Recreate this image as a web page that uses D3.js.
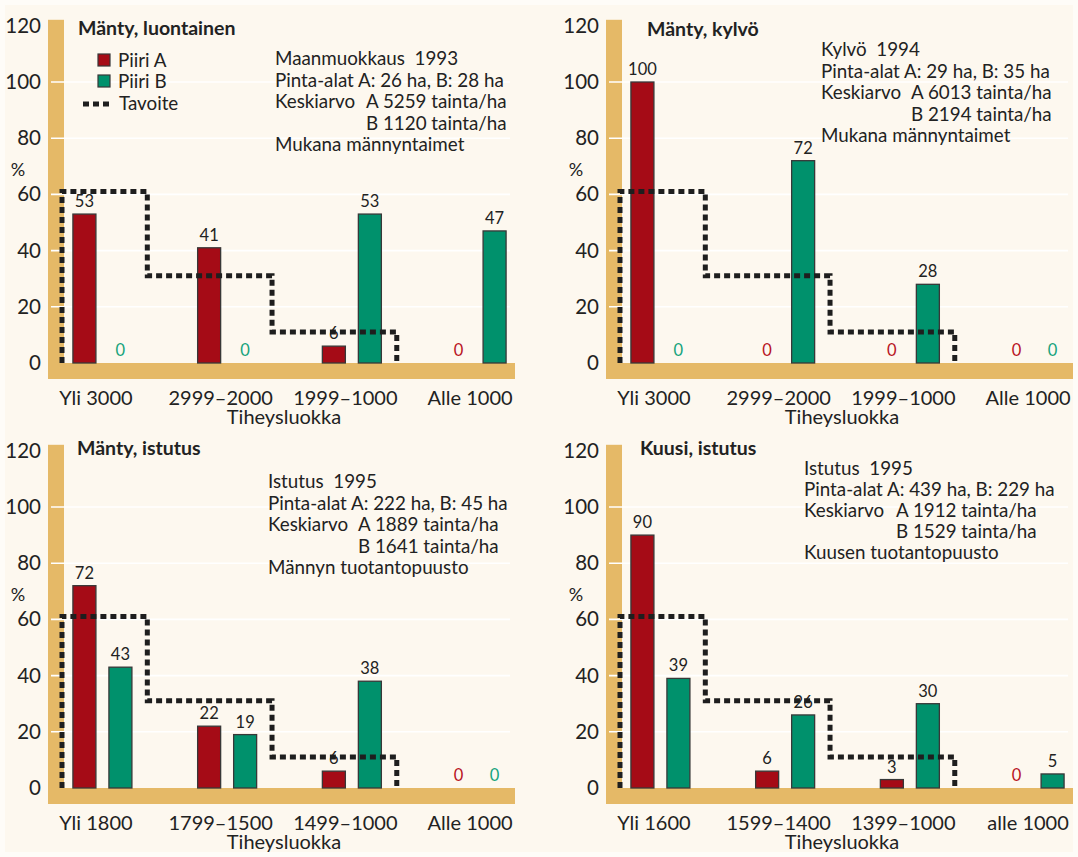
<!DOCTYPE html>
<html>
<head>
<meta charset="utf-8">
<script src="https://cdn.jsdelivr.net/npm/d3@7"></script>
<style>
  html, body { margin: 0; padding: 0; background: #fefcf8; }
  svg { display: block; font-family: Lato, "Open Sans", sans-serif; }
</style>
</head>
<body>
<svg id="chart" width="1078" height="857"></svg>
<script>
// ---- data ----------------------------------------------------------
const titles = ["Mänty, luontainen", "Mänty, kylvö", "Mänty, istutus", "Kuusi, istutus"];

const categoriesLuontainen = ["Yli 3000", "2999–2000", "1999–1000", "Alle 1000"];
const categoriesKylvo      = ["Yli 3000", "2999–2000", "1999–1000", "Alle 1000"];
const categoriesMantyIst   = ["Yli 1800", "1799–1500", "1499–1000", "Alle 1000"];
const categoriesKuusiIst   = ["Yli 1600", "1599–1400", "1399–1000", "alle 1000"];

const piiriA_luontainen = [53, 41, 6, 0];
const piiriB_luontainen = [0, 0, 53, 47];
const piiriA_kylvo      = [100, 0, 0, 0];
const piiriB_kylvo      = [0, 72, 28, 0];
const piiriA_mantyIst   = [72, 22, 6, 0];
const piiriB_mantyIst   = [43, 19, 38, 0];
const piiriA_kuusiIst   = [90, 6, 3, 0];
const piiriB_kuusiIst   = [39, 26, 30, 5];

// target share (%) for the three densest classes
const tavoite = [60, 30, 10];

const yTicks = [0, 20, 40, 60, 80, 100, 120];

const infoMethod = ["Maanmuokkaus  1993", "Kylvö  1994", "Istutus  1995", "Istutus  1995"];
const infoArea   = ["Pinta-alat A: 26 ha, B: 28 ha", "Pinta-alat A: 29 ha, B: 35 ha",
                    "Pinta-alat A: 222 ha, B: 45 ha", "Pinta-alat A: 439 ha, B: 229 ha"];
const infoMeanA  = ["A 5259 tainta/ha", "A 6013 tainta/ha", "A 1889 tainta/ha", "A 1912 tainta/ha"];
const infoMeanB  = ["B 1120 tainta/ha", "B 2194 tainta/ha", "B 1641 tainta/ha", "B 1529 tainta/ha"];
const infoNote   = ["Mukana männyntaimet", "Mukana männyntaimet", "Männyn tuotantopuusto", "Kuusen tuotantopuusto"];

const seriesNames = ["Piiri A", "Piiri B"];
const xTitle = "Tiheysluokka";
const yTitle = "%";

// ---- styling / layout ----------------------------------------------
const COL_A = "#a50b16", COL_B = "#00916c";
const ZERO_A = "#b8141e", ZERO_B = "#16a37c";
const BAND = "#e5b967";
const BG = "#fdf8ef";
const INK = "#222";

const panels = [
  { x0: 48,  zero: 363, cats: categoriesLuontainen, a: piiriA_luontainen, b: piiriB_luontainen,
    title: [30, -328], info: [227, -298, 318, 21.5], legend: true },
  { x0: 606, zero: 363, cats: categoriesKylvo, a: piiriA_kylvo, b: piiriB_kylvo,
    title: [41, -327], info: [215, -307, 305, 21.5] },
  { x0: 48,  zero: 788, cats: categoriesMantyIst, a: piiriA_mantyIst, b: piiriB_mantyIst,
    title: [29, -333], info: [220, -300, 310, 21.5] },
  { x0: 606, zero: 788, cats: categoriesKuusiIst, a: piiriA_kuusiIst, b: piiriB_kuusiIst,
    title: [34, -333], info: [198, -313, 290, 21] }
];

const BAND_W = 16, PLOT_W = 467, UNIT = 2.81;

const svg = d3.select("#chart");
svg.append("rect").attr("x", 5).attr("y", 5).attr("width", 1068).attr("height", 847).attr("fill", BG);

panels.forEach((p, i) => {
  const g = svg.append("g").attr("transform", `translate(${p.x0},${p.zero})`);

  const y = d3.scaleLinear().domain([0, 120]).range([0, -120 * UNIT]);
  const x = d3.scalePoint().domain(p.cats).range([BAND_W, PLOT_W]).padding(0.308);
  const step = x.step();
  const x1 = d3.scaleBand().domain(["A", "B"]).range([-29.5, 29.5]).paddingInner(0.361);

  // axis bands
  g.append("rect").attr("x", 0).attr("y", y(120) - 6).attr("width", BAND_W)
    .attr("height", -(y(120) - 6)).attr("fill", BAND);
  g.append("rect").attr("x", 0).attr("y", 0).attr("width", PLOT_W).attr("height", BAND_W).attr("fill", BAND);

  // gridlines
  g.selectAll("line.grid").data(yTicks.filter(t => t > 0 && t < 120)).join("line")
    .attr("class", "grid")
    .attr("x1", 3).attr("x2", PLOT_W - 5)
    .attr("y1", d => y(d)).attr("y2", d => y(d))
    .attr("stroke", "#ffffff").attr("stroke-width", 1.6);

  // y tick labels
  const yAxis = d3.axisLeft(y).tickValues(yTicks).tickSize(0).tickPadding(7);
  const ya = g.append("g").call(yAxis);
  ya.select(".domain").remove();
  ya.selectAll("text").attr("font-size", 20.5).attr("fill", INK).attr("font-family", "Lato, sans-serif");

  g.append("text").attr("x", -30).attr("y", -187).attr("text-anchor", "middle")
    .attr("font-size", 18).attr("fill", INK).text(yTitle);

  // bars
  const rows = p.cats.map((c, k) => ({ cat: c, A: p.a[k], B: p.b[k] }));
  const grp = g.selectAll("g.cat").data(rows).join("g")
    .attr("class", "cat").attr("transform", d => `translate(${x(d.cat)},0)`);

  grp.selectAll("rect").data(d => ["A", "B"].map(s => ({ s, v: d[s] })).filter(e => e.v > 0)).join("rect")
    .attr("x", e => x1(e.s)).attr("width", x1.bandwidth())
    .attr("y", e => y(e.v)).attr("height", e => -y(e.v))
    .attr("fill", e => e.s === "A" ? COL_A : COL_B)
    .attr("stroke", "#383838").attr("stroke-width", 1.3);

  grp.selectAll("text").data(d => ["A", "B"].map(s => ({ s, v: d[s] }))).join("text")
    .attr("x", e => x1(e.s) + x1.bandwidth() / 2)
    .attr("y", e => y(e.v) - 7)
    .attr("text-anchor", "middle").attr("font-size", 16.5)
    .attr("fill", e => e.v > 0 ? INK : (e.s === "A" ? ZERO_A : ZERO_B))
    .text(e => e.v);

  // target step line
  const edge = k => x(p.cats[k]) + step * 0.36;
  const path = d3.path();
  path.moveTo(14, 0);
  path.lineTo(14, y(tavoite[0]) - 3);
  tavoite.forEach((t, k) => {
    path.lineTo(edge(k), y(t) - 3);
    path.lineTo(edge(k), k + 1 < tavoite.length ? y(tavoite[k + 1]) - 3 : 0);
  });
  g.append("path").attr("d", path.toString()).attr("fill", "none")
    .attr("stroke", "#1e1e1e").attr("stroke-width", 5).attr("stroke-dasharray", "6,4");

  // category labels
  const xa = g.append("g").attr("transform", `translate(-7,${BAND_W})`)
    .call(d3.axisBottom(x).tickSize(0).tickPadding(12));
  xa.select(".domain").remove();
  xa.selectAll("text").attr("font-size", 20).attr("fill", INK).attr("font-family", "Lato, sans-serif");

  g.append("text").attr("x", 236).attr("y", 61).attr("text-anchor", "middle")
    .attr("font-size", 20).attr("fill", INK).text(xTitle);

  // title
  g.append("text").attr("x", p.title[0]).attr("y", p.title[1])
    .attr("font-size", 19.5).attr("font-weight", 700).attr("fill", INK).text(titles[i]);

  // info block
  const [ix, iy, ix2, lh] = p.info;
  const info = g.append("g").attr("font-size", 18.8).attr("fill", INK);
  info.append("text").attr("x", ix).attr("y", iy).attr("xml:space", "preserve").text(infoMethod[i]);
  info.append("text").attr("x", ix).attr("y", iy + lh).text(infoArea[i]);
  info.append("text").attr("x", ix).attr("y", iy + 2 * lh).text("Keskiarvo");
  info.append("text").attr("x", ix2).attr("y", iy + 2 * lh).text(infoMeanA[i]);
  info.append("text").attr("x", ix2).attr("y", iy + 3 * lh).text(infoMeanB[i]);
  info.append("text").attr("x", ix).attr("y", iy + 4 * lh).text(infoNote[i]);

  // legend
  if (p.legend) {
    const lg = g.append("g").attr("font-size", 18.8).attr("fill", INK);
    [COL_A, COL_B].forEach((c, k) => {
      lg.append("rect").attr("x", 50).attr("y", -309 + k * 21).attr("width", 12).attr("height", 12)
        .attr("fill", c).attr("stroke", "#383838").attr("stroke-width", 1.2);
      lg.append("text").attr("x", 70).attr("y", -296 + k * 21).text(seriesNames[k]);
    });
    lg.append("line").attr("x1", 35).attr("x2", 63).attr("y1", -259).attr("y2", -259)
      .attr("stroke", "#1e1e1e").attr("stroke-width", 5).attr("stroke-dasharray", "6,4");
    lg.append("text").attr("x", 71).attr("y", -253).text("Tavoite");
  }
});
</script>
</body>
</html>
